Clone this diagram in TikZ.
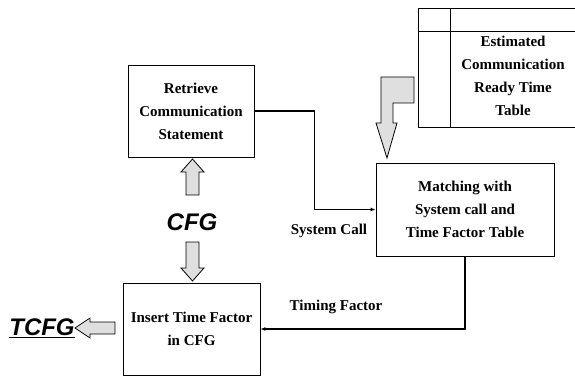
\documentclass[tikz,border=0pt]{standalone}
\usepackage{fontspec}
\setmainfont{Liberation Serif}
\newfontfamily\hv{Liberation Sans}
\usetikzlibrary{arrows.meta}
\begin{document}
\begin{tikzpicture}[x=1pt,y=-1pt,
  box/.style={draw,line width=0.8pt,align=center,inner sep=0pt,
    font=\bfseries\fontsize{15}{23}\selectfont},
  conn/.style={line width=1.3pt,-{Latex[length=5pt,width=4pt]}},
  lbl/.style={font=\bfseries\fontsize{15}{18}\selectfont},
  big/.style={font=\hv\bfseries\itshape\fontsize{24}{26}\selectfont},
  hollow/.style={draw,line width=0.8pt,fill=gray!25}]
\useasboundingbox (0,0) rectangle (575,377);
% table (right edge lies beyond the picture)
\node[draw,line width=0.8pt,minimum width=164pt,minimum height=119pt,inner sep=0pt] (tbl) at (500,67.5) {};
\draw[line width=0.8pt] (tbl.north west) ++(33,0) coordinate (tc) -- (tc |- tbl.south);
\draw[line width=0.8pt] (tbl.north west) ++(0,24) coordinate (tr) -- (tr -| tbl.east);
\node[box,draw=none] (tbltext) at (513,76) {Estimated\\Communication\\Ready Time\\Table};
% boxes
\node[box,minimum width=126pt,minimum height=92pt] (retr) at (191,111) {Retrieve\\Communication\\Statement};
\node[box,minimum width=178pt,minimum height=93pt] (match) at (465,209.5) {Matching with\\System call and\\Time Factor Table};
\node[box,minimum width=137pt,minimum height=92pt] (ins) at (191.5,329) {Insert Time Factor\\in CFG};
% labels
\node[big] (cfg) at (192,222) {CFG};
\node[big] (tcfg) at (42,328) {\underline{TCFG}};
\node[lbl] (sc) at (329,231) {System Call};
\node[lbl] (tf) at (336,307) {Timing Factor};
% connectors
\draw[conn] (retr.east) -- ++(60,0) |- (match.west);
\draw[conn] (match.south) |- (ins.east);
% hollow arrows
\draw[hollow] (186,195) -- (186,172) -- (181,172) -- (192.5,159) -- (204,172) -- (199,172) -- (199,195) -- cycle;
\draw[hollow] (186,242) -- (186,268) -- (181,268) -- (192.5,281) -- (204,268) -- (199,268) -- (199,242) -- cycle;
\draw[hollow] (115,322) -- (90,322) -- (90,318) -- (75,328) -- (90,338) -- (90,334) -- (115,334) -- cycle;
\draw[hollow] (381,77) -- (414,77) -- (414,103) -- (393,103) -- (393,123) -- (397,123) -- (387,158) -- (376,123) -- (381,123) -- cycle;
\end{tikzpicture}
\end{document}
